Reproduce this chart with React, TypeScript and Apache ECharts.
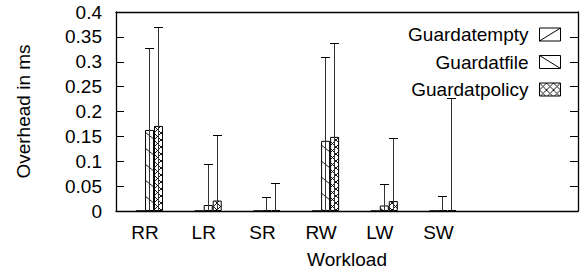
import React, { useEffect, useRef } from 'react';
import * as echarts from 'echarts';

const categories = ['RR', 'LR', 'SR', 'RW', 'LW', 'SW'];
const seriesNames = ['Guardatempty', 'Guardatfile', 'Guardatpolicy'];
const emptyValues = [0, 0, 0, 0, 0, 0];
const emptyErrors = [0, 0, 0, 0, 0, 0];
const fileValues = [0.163, 0.012, 0.001, 0.141, 0.011, 0.001];
const fileErrors = [0.164, 0.081, 0.027, 0.167, 0.043, 0.028];
const policyValues = [0.171, 0.021, 0.002, 0.149, 0.02, 0.002];
const policyErrors = [0.198, 0.131, 0.054, 0.188, 0.125, 0.225];
const yMax = 0.4;
const yStep = 0.05;

const BAR_W = 9;
const CAP = 4.5;
const FS = 19;
const FONT = '"Liberation Sans", Arial, Helvetica, sans-serif';

function makePattern(kind: 'fwd' | 'back' | 'cross') {
  const w = kind === 'cross' ? 7 : 20;
  const h = kind === 'cross' ? 7 : 16;
  const c = document.createElement('canvas');
  c.width = w;
  c.height = h;
  const ctx = c.getContext('2d')!;
  ctx.fillStyle = '#fff';
  ctx.fillRect(0, 0, w, h);
  ctx.strokeStyle = '#000';
  ctx.lineWidth = 0.9;
  const lines: number[][] = [];
  if (kind !== 'fwd') lines.push([0, 0, w, h]);
  if (kind !== 'back') lines.push([0, h, w, 0]);
  for (const l of lines) {
    for (const dx of [-w, 0, w]) {
      for (const dy of [-h, 0, h]) {
        ctx.beginPath();
        ctx.moveTo(l[0] + dx, l[1] + dy);
        ctx.lineTo(l[2] + dx, l[3] + dy);
        ctx.stroke();
      }
    }
  }
  return { image: c, repeat: 'repeat', imageWidth: w, imageHeight: h };
}

function errSeries(values: number[], errors: number[], k: number) {
  return {
    type: 'custom',
    name: seriesNames[k] + '-err',
    xAxisIndex: 0,
    yAxisIndex: 0,
    z: 10,
    clip: true,
    silent: true,
    data: values.map((v, i) => [i, v, errors[i]]),
    encode: { x: 0, y: [1] },
    renderItem: (_params: any, api: any) => {
      const i = api.value(0);
      const v = api.value(1);
      const e = api.value(2);
      if (!(e > 0)) return null;
      const off = (k - 1) * BAR_W;
      const top = api.coord([i, v + e]);
      const lowV = Math.max(0, v - e);
      const low = api.coord([i, lowV]);
      const x = Math.round(top[0] + off - 0.5) + 0.5;
      const ty = Math.round(top[1] - 0.5) + 0.5;
      const children: any[] = [
        { type: 'line', shape: { x1: x, y1: ty, x2: x, y2: low[1] }, style: { stroke: '#333', lineWidth: 1 } },
        { type: 'line', shape: { x1: x - CAP, y1: ty, x2: x + CAP, y2: ty }, style: { stroke: '#000', lineWidth: 1 } },
      ];
      if (v - e > 0) {
        children.push({ type: 'line', shape: { x1: x - CAP, y1: low[1], x2: x + CAP, y2: low[1] }, style: { stroke: '#000', lineWidth: 1 } });
      }
      return { type: 'group', children };
    },
  };
}

export default function App() {
  const ref = useRef<HTMLDivElement>(null);
  useEffect(() => {
    document.body.style.margin = '0';
    const chart = echarts.init(ref.current!, null, { renderer: 'svg' });
    const patterns = [makePattern('fwd'), makePattern('back'), makePattern('cross')];
    const valueSets = [emptyValues, fileValues, policyValues];
    const barSeries = valueSets.map((vals, k) => ({
      type: 'bar',
      name: seriesNames[k],
      xAxisIndex: 0,
      yAxisIndex: 0,
      barWidth: BAR_W,
      barGap: '0%',
      data: vals.map((v, i) => [i, v]),
      itemStyle: { color: patterns[k], borderColor: '#000', borderWidth: 1 },
      silent: true,
    }));
    const axisLineStyle = { color: '#000', width: 1.3 };
    chart.setOption({
      animation: false,
      textStyle: { fontFamily: FONT, color: '#000' },
      grid: { left: 116, right: 10, top: 12, bottom: 62, containLabel: false, outerBoundsMode: 'none' },
      legend: {
        orient: 'vertical',
        right: 27,
        top: 25,
        padding: 0,
        align: 'right',
        itemWidth: 21,
        itemHeight: 13,
        itemGap: 8.5,
        selectedMode: false,
        textStyle: { fontSize: FS, color: '#000', fontFamily: FONT, padding: [0, 6, 0, 0] },
        itemStyle: { borderColor: '#000', borderWidth: 1 },
        data: [
          { name: seriesNames[0], icon: 'path://M0,0L21,0L21,13L0,13ZM0,13L21,0', itemStyle: { color: '#fff', borderColor: '#000', borderWidth: 1 } },
          { name: seriesNames[1], icon: 'path://M0,0L21,0L21,13L0,13ZM0,0L21,13', itemStyle: { color: '#fff', borderColor: '#000', borderWidth: 1 } },
          { name: seriesNames[2], icon: 'rect', itemStyle: { borderColor: '#000', borderWidth: 1 } },
        ],
      },
      xAxis: [
        {
          type: 'value',
          min: -0.571,
          max: 7.3,
          position: 'bottom',
          axisLine: { show: true, onZero: false, lineStyle: axisLineStyle },
          axisTick: { show: false },
          splitLine: { show: false },
          axisLabel: {
            customValues: categories.map((_, i) => i),
            formatter: (v: number) => categories[Math.round(v)] ?? '',
            color: '#000',
            fontSize: FS,
            fontFamily: FONT,
            margin: 12,
            padding: [0, 9, 0, 0],
          },
          name: 'Workload',
          nameLocation: 'middle',
          nameGap: 39,
          nameTextStyle: { fontSize: FS, color: '#000', fontFamily: FONT },
        },
        {
          type: 'value',
          min: -0.571,
          max: 7.3,
          position: 'top',
          axisLine: { show: true, onZero: false, lineStyle: axisLineStyle },
          axisTick: { show: false },
          splitLine: { show: false },
          axisLabel: { show: false },
        },
      ],
      yAxis: [
        {
          type: 'value',
          min: 0,
          max: yMax,
          interval: yStep,
          position: 'left',
          axisLine: { show: true, onZero: false, lineStyle: axisLineStyle },
          axisTick: { show: true, inside: true, length: 8, lineStyle: { color: '#000', width: 1 } },
          splitLine: { show: false },
          axisLabel: { color: '#000', fontSize: FS, fontFamily: FONT, margin: 14 },
          name: 'Overhead in ms',
          nameLocation: 'middle',
          nameGap: 83,
          nameTextStyle: { fontSize: FS, color: '#000', fontFamily: FONT },
        },
        {
          type: 'value',
          min: 0,
          max: yMax,
          interval: yStep,
          position: 'right',
          axisLine: { show: true, onZero: false, lineStyle: axisLineStyle },
          axisTick: { show: true, inside: true, length: 8, lineStyle: { color: '#000', width: 1 } },
          splitLine: { show: false },
          axisLabel: { show: false },
        },
      ],
      series: [
        ...barSeries,
        errSeries(fileValues, fileErrors, 1),
        errSeries(policyValues, policyErrors, 2),
        errSeries(emptyValues, emptyErrors, 0),
      ],
    });
    return () => chart.dispose();
  }, []);
  return <div ref={ref} style={{ position: 'absolute', left: 0, top: 0, width: 588, height: 273 }} />;
}
